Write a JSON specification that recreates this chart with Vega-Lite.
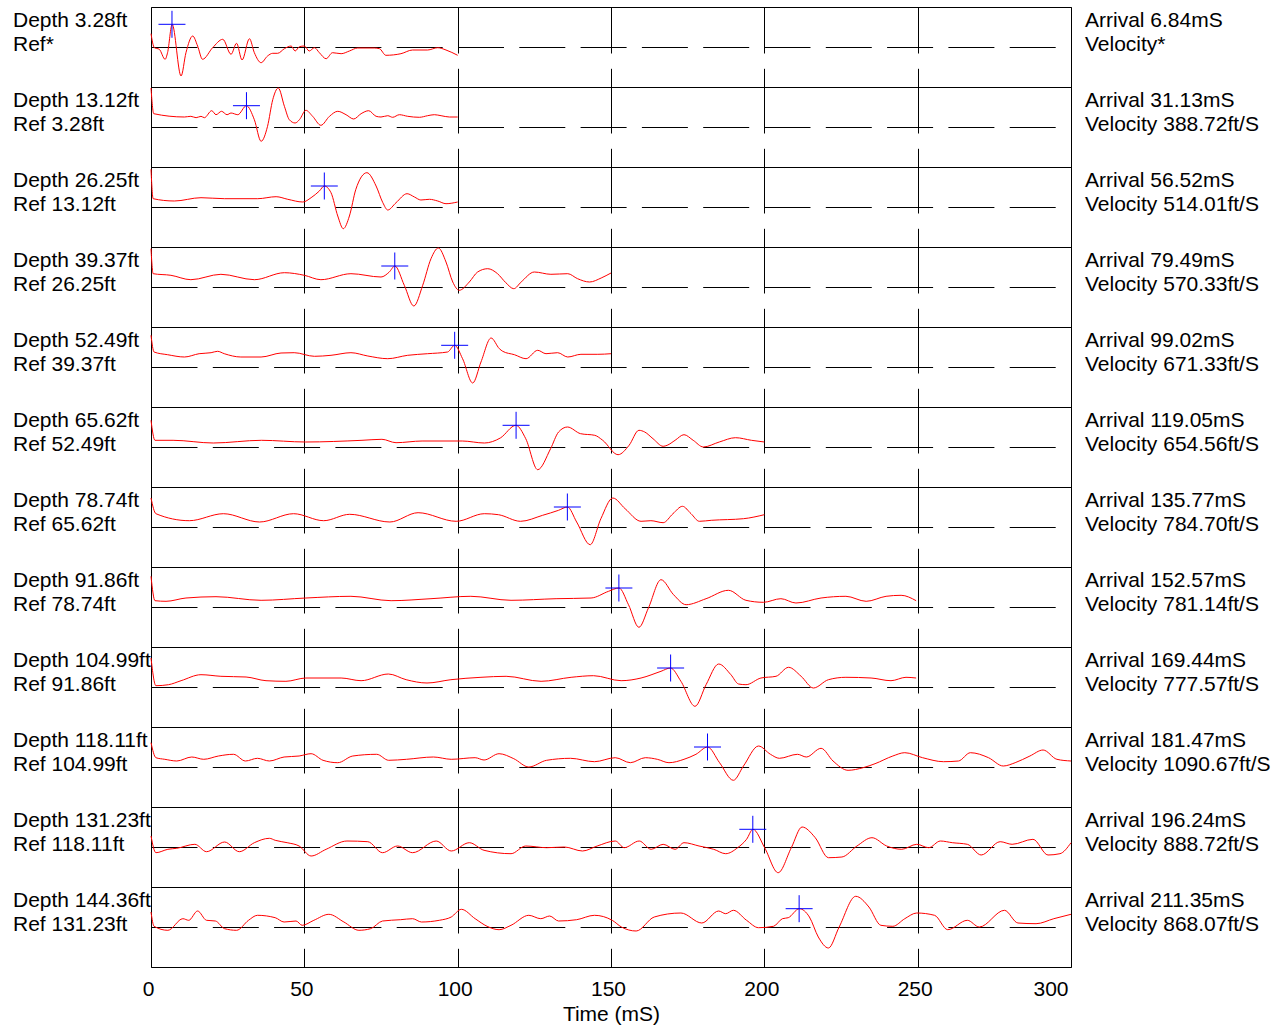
{
  "$schema": "https://vega.github.io/schema/vega-lite/v6.json",
  "padding": {"left": 12, "top": 6, "right": 5, "bottom": 2},
  "background": "white",
  "bounds": "flush",
  "datasets": {
    "panels": [
      {"d": 3.28, "row": "Depth 3.28ft|Ref*"},
      {"d": 13.12, "row": "Depth 13.12ft|Ref 3.28ft"},
      {"d": 26.25, "row": "Depth 26.25ft|Ref 13.12ft"},
      {"d": 39.37, "row": "Depth 39.37ft|Ref 26.25ft"},
      {"d": 52.49, "row": "Depth 52.49ft|Ref 39.37ft"},
      {"d": 65.62, "row": "Depth 65.62ft|Ref 52.49ft"},
      {"d": 78.74, "row": "Depth 78.74ft|Ref 65.62ft"},
      {"d": 91.86, "row": "Depth 91.86ft|Ref 78.74ft"},
      {"d": 104.99, "row": "Depth 104.99ft|Ref 91.86ft"},
      {"d": 118.11, "row": "Depth 118.11ft|Ref 104.99ft"},
      {"d": 131.23, "row": "Depth 131.23ft|Ref 118.11ft"},
      {"d": 144.36, "row": "Depth 144.36ft|Ref 131.23ft"}
    ]
  },
  "data": {
    "values": [
      {"d": 3.28, "arrival": 6.84, "pa": 22.7, "info": "Arrival 6.84mS|Velocity*"},
      {"d": 13.12, "arrival": 31.13, "pa": 21.3, "info": "Arrival 31.13mS|Velocity 388.72ft/S"},
      {"d": 26.25, "arrival": 56.52, "pa": 21, "info": "Arrival 56.52mS|Velocity 514.01ft/S"},
      {"d": 39.37, "arrival": 79.49, "pa": 21, "info": "Arrival 79.49mS|Velocity 570.33ft/S"},
      {"d": 52.49, "arrival": 99.02, "pa": 21.7, "info": "Arrival 99.02mS|Velocity 671.33ft/S"},
      {"d": 65.62, "arrival": 119.05, "pa": 21.7, "info": "Arrival 119.05mS|Velocity 654.56ft/S"},
      {"d": 78.74, "arrival": 135.77, "pa": 20, "info": "Arrival 135.77mS|Velocity 784.70ft/S"},
      {"d": 91.86, "arrival": 152.57, "pa": 19, "info": "Arrival 152.57mS|Velocity 781.14ft/S"},
      {"d": 104.99, "arrival": 169.44, "pa": 19, "info": "Arrival 169.44mS|Velocity 777.57ft/S"},
      {"d": 118.11, "arrival": 181.47, "pa": 20, "info": "Arrival 181.47mS|Velocity 1090.67ft/S"},
      {"d": 131.23, "arrival": 196.24, "pa": 17.7, "info": "Arrival 196.24mS|Velocity 888.72ft/S"},
      {"d": 144.36, "arrival": 211.35, "pa": 18.3, "info": "Arrival 211.35mS|Velocity 868.07ft/S"},

      {"d": 3.28, "t": 0, "a": 13.3}, {"d": 3.28, "t": 1.1, "a": -0.7}, {"d": 3.28, "t": 2.7, "a": -2.3}, {"d": 3.28, "t": 4.6, "a": -12.3},
      {"d": 3.28, "t": 5.4, "a": -5.7}, {"d": 3.28, "t": 6.9, "a": 22.7}, {"d": 3.28, "t": 9.8, "a": -29}, {"d": 3.28, "t": 11.4, "a": -5.7},
      {"d": 3.28, "t": 13.6, "a": 11}, {"d": 3.28, "t": 15.2, "a": 1}, {"d": 3.28, "t": 16.8, "a": -12.3}, {"d": 3.28, "t": 20.1, "a": -0.7},
      {"d": 3.28, "t": 23.4, "a": 7.7}, {"d": 3.28, "t": 26.1, "a": -7.3}, {"d": 3.28, "t": 27.9, "a": 3.7}, {"d": 3.28, "t": 29.7, "a": -13},
      {"d": 3.28, "t": 32.1, "a": 8.3}, {"d": 3.28, "t": 33.7, "a": -5.7}, {"d": 3.28, "t": 35.9, "a": -15.7}, {"d": 3.28, "t": 38, "a": -9},
      {"d": 3.28, "t": 39.7, "a": -6.3}, {"d": 3.28, "t": 41.3, "a": -6.3}, {"d": 3.28, "t": 43.5, "a": -1.7}, {"d": 3.28, "t": 45.7, "a": 1},
      {"d": 3.28, "t": 47, "a": -4}, {"d": 3.28, "t": 48.4, "a": 0.3}, {"d": 3.28, "t": 50, "a": 1}, {"d": 3.28, "t": 51.6, "a": -4},
      {"d": 3.28, "t": 53.3, "a": -0.7}, {"d": 3.28, "t": 54.9, "a": -5.7}, {"d": 3.28, "t": 57.1, "a": -11.7}, {"d": 3.28, "t": 59.2, "a": -5.7},
      {"d": 3.28, "t": 62, "a": -6.7}, {"d": 3.28, "t": 64.7, "a": -4}, {"d": 3.28, "t": 67.4, "a": -1}, {"d": 3.28, "t": 72.8, "a": -1},
      {"d": 3.28, "t": 74.5, "a": -1.7}, {"d": 3.28, "t": 76.6, "a": -8.3}, {"d": 3.28, "t": 81.5, "a": -6.7}, {"d": 3.28, "t": 85.3, "a": -3},
      {"d": 3.28, "t": 90.2, "a": -3}, {"d": 3.28, "t": 93.5, "a": -0.7}, {"d": 3.28, "t": 96.2, "a": -3}, {"d": 3.28, "t": 100, "a": -8.3},

      {"d": 13.12, "t": 0, "a": 39}, {"d": 13.12, "t": 0.9, "a": 13.3}, {"d": 13.12, "t": 10.9, "a": 10}, {"d": 13.12, "t": 13, "a": 10.7},
      {"d": 13.12, "t": 14.7, "a": 9.3}, {"d": 13.12, "t": 16.3, "a": 10.7}, {"d": 13.12, "t": 17.4, "a": 9.3}, {"d": 13.12, "t": 19.8, "a": 16.3},
      {"d": 13.12, "t": 21.2, "a": 12.3}, {"d": 13.12, "t": 23, "a": 15.7}, {"d": 13.12, "t": 24.8, "a": 12.3}, {"d": 13.12, "t": 26.1, "a": 14},
      {"d": 13.12, "t": 28.3, "a": 12.3}, {"d": 13.12, "t": 31.1, "a": 21.3}, {"d": 13.12, "t": 33.7, "a": 7.3}, {"d": 13.12, "t": 35.9, "a": -14.3},
      {"d": 13.12, "t": 38, "a": 0.7}, {"d": 13.12, "t": 39.7, "a": 27.3}, {"d": 13.12, "t": 41.5, "a": 39}, {"d": 13.12, "t": 43.5, "a": 20.7},
      {"d": 13.12, "t": 45.1, "a": 7.3}, {"d": 13.12, "t": 47, "a": 4}, {"d": 13.12, "t": 48.4, "a": 7.3}, {"d": 13.12, "t": 50.5, "a": 16.7},
      {"d": 13.12, "t": 52.7, "a": 10.7}, {"d": 13.12, "t": 55.4, "a": 1.7}, {"d": 13.12, "t": 58.2, "a": 10.7}, {"d": 13.12, "t": 60.9, "a": 15.7},
      {"d": 13.12, "t": 63.6, "a": 12.3}, {"d": 13.12, "t": 66.1, "a": 8}, {"d": 13.12, "t": 68.5, "a": 13.3}, {"d": 13.12, "t": 71, "a": 16.3},
      {"d": 13.12, "t": 73.4, "a": 10.7}, {"d": 13.12, "t": 75, "a": 10}, {"d": 13.12, "t": 77.2, "a": 11.3}, {"d": 13.12, "t": 78.8, "a": 9.7},
      {"d": 13.12, "t": 81, "a": 12.3}, {"d": 13.12, "t": 83.7, "a": 10.7}, {"d": 13.12, "t": 87.5, "a": 9.7}, {"d": 13.12, "t": 90.2, "a": 11.3},
      {"d": 13.12, "t": 92.4, "a": 12.3}, {"d": 13.12, "t": 94.6, "a": 11.3}, {"d": 13.12, "t": 97.3, "a": 10}, {"d": 13.12, "t": 100, "a": 10},

      {"d": 26.25, "t": 0, "a": 37.7}, {"d": 26.25, "t": 0.7, "a": 8.3}, {"d": 26.25, "t": 7.6, "a": 6}, {"d": 26.25, "t": 16.3, "a": 9.3},
      {"d": 26.25, "t": 24, "a": 8.3}, {"d": 26.25, "t": 34.8, "a": 8.3}, {"d": 26.25, "t": 40.8, "a": 10.3}, {"d": 26.25, "t": 44.6, "a": 7.7},
      {"d": 26.25, "t": 49.5, "a": 5}, {"d": 26.25, "t": 52.2, "a": 9.3}, {"d": 26.25, "t": 54.9, "a": 16}, {"d": 26.25, "t": 56.5, "a": 21},
      {"d": 26.25, "t": 58.7, "a": 14.3}, {"d": 26.25, "t": 60.9, "a": -9}, {"d": 26.25, "t": 62.7, "a": -21.7}, {"d": 26.25, "t": 64.7, "a": -9},
      {"d": 26.25, "t": 66.8, "a": 17.7}, {"d": 26.25, "t": 70.4, "a": 34.3}, {"d": 26.25, "t": 73.4, "a": 21}, {"d": 26.25, "t": 75.6, "a": 4.3},
      {"d": 26.25, "t": 77.2, "a": -3}, {"d": 26.25, "t": 79.9, "a": 4.3}, {"d": 26.25, "t": 83.5, "a": 13.3}, {"d": 26.25, "t": 85.9, "a": 10},
      {"d": 26.25, "t": 88, "a": 7}, {"d": 26.25, "t": 90.8, "a": 7.7}, {"d": 26.25, "t": 93.5, "a": 6}, {"d": 26.25, "t": 96.2, "a": 3.3},
      {"d": 26.25, "t": 100, "a": 5},

      {"d": 39.37, "t": 0, "a": 38.3}, {"d": 39.37, "t": 0.7, "a": 13.3}, {"d": 39.37, "t": 6.5, "a": 11.7}, {"d": 39.37, "t": 13, "a": 7.3},
      {"d": 39.37, "t": 22.8, "a": 12.7}, {"d": 39.37, "t": 33.7, "a": 7.3}, {"d": 39.37, "t": 43.5, "a": 14.3}, {"d": 39.37, "t": 50, "a": 11.7},
      {"d": 39.37, "t": 55.4, "a": 7.3}, {"d": 39.37, "t": 65.2, "a": 13.3}, {"d": 39.37, "t": 75, "a": 10}, {"d": 39.37, "t": 77.7, "a": 15},
      {"d": 39.37, "t": 79.5, "a": 21}, {"d": 39.37, "t": 82.6, "a": 1.7}, {"d": 39.37, "t": 85.7, "a": -19}, {"d": 39.37, "t": 88.6, "a": 1.7},
      {"d": 39.37, "t": 91.3, "a": 28.3}, {"d": 39.37, "t": 93.7, "a": 39}, {"d": 39.37, "t": 96.2, "a": 25}, {"d": 39.37, "t": 98.4, "a": 5},
      {"d": 39.37, "t": 100.5, "a": -3.3}, {"d": 39.37, "t": 103.8, "a": 5}, {"d": 39.37, "t": 106.5, "a": 15}, {"d": 39.37, "t": 109.8, "a": 18.3},
      {"d": 39.37, "t": 113, "a": 13.3}, {"d": 39.37, "t": 115.7, "a": 4.3}, {"d": 39.37, "t": 118.3, "a": -1.7}, {"d": 39.37, "t": 120.7, "a": 5},
      {"d": 39.37, "t": 125, "a": 15}, {"d": 39.37, "t": 130.4, "a": 12.7}, {"d": 39.37, "t": 135.9, "a": 13.3}, {"d": 39.37, "t": 139.1, "a": 8.3},
      {"d": 39.37, "t": 143, "a": 5}, {"d": 39.37, "t": 146.8, "a": 9}, {"d": 39.37, "t": 150, "a": 14},

      {"d": 52.49, "t": 0, "a": 31.7}, {"d": 52.49, "t": 1, "a": 15}, {"d": 52.49, "t": 5.4, "a": 12.3}, {"d": 52.49, "t": 10.9, "a": 10},
      {"d": 52.49, "t": 15.7, "a": 13.3}, {"d": 52.49, "t": 19.6, "a": 14.3}, {"d": 52.49, "t": 21.7, "a": 15.7}, {"d": 52.49, "t": 23.9, "a": 13.3},
      {"d": 52.49, "t": 29.3, "a": 10}, {"d": 52.49, "t": 35.9, "a": 10}, {"d": 52.49, "t": 42.4, "a": 14}, {"d": 52.49, "t": 46.7, "a": 14.3},
      {"d": 52.49, "t": 53.3, "a": 10.7}, {"d": 52.49, "t": 58.7, "a": 11.7}, {"d": 52.49, "t": 65.2, "a": 14.3}, {"d": 52.49, "t": 70.7, "a": 11},
      {"d": 52.49, "t": 77.2, "a": 8.3}, {"d": 52.49, "t": 83.7, "a": 11.7}, {"d": 52.49, "t": 90.2, "a": 13.3}, {"d": 52.49, "t": 96.7, "a": 15},
      {"d": 52.49, "t": 99, "a": 21.7}, {"d": 52.49, "t": 101.6, "a": 8.3}, {"d": 52.49, "t": 104.9, "a": -16}, {"d": 52.49, "t": 107.6, "a": 5},
      {"d": 52.49, "t": 110.9, "a": 29}, {"d": 52.49, "t": 113.6, "a": 18.3}, {"d": 52.49, "t": 114.7, "a": 15.7}, {"d": 52.49, "t": 118.5, "a": 12.3},
      {"d": 52.49, "t": 122.3, "a": 8.3}, {"d": 52.49, "t": 126.1, "a": 16.7}, {"d": 52.49, "t": 128.8, "a": 13.3}, {"d": 52.49, "t": 132.6, "a": 14.3},
      {"d": 52.49, "t": 135.9, "a": 10}, {"d": 52.49, "t": 140.2, "a": 12.7}, {"d": 52.49, "t": 145.7, "a": 12.7}, {"d": 52.49, "t": 150, "a": 13.3},

      {"d": 65.62, "t": 0, "a": 26.7}, {"d": 65.62, "t": 1.3, "a": 6.7}, {"d": 65.62, "t": 7.2, "a": 6.7}, {"d": 65.62, "t": 20.3, "a": 4},
      {"d": 65.62, "t": 36, "a": 6.7}, {"d": 65.62, "t": 50.4, "a": 5}, {"d": 65.62, "t": 68.8, "a": 6.7}, {"d": 65.62, "t": 75.3, "a": 7.7},
      {"d": 65.62, "t": 79.9, "a": 4.3}, {"d": 65.62, "t": 88.4, "a": 6}, {"d": 65.62, "t": 101.5, "a": 6}, {"d": 65.62, "t": 108.7, "a": 4},
      {"d": 65.62, "t": 113.9, "a": 9}, {"d": 65.62, "t": 119, "a": 21.7}, {"d": 65.62, "t": 122.2, "a": 8.3}, {"d": 65.62, "t": 126.1, "a": -22.7},
      {"d": 65.62, "t": 130.3, "a": -1.7}, {"d": 65.62, "t": 132.9, "a": 15}, {"d": 65.62, "t": 135.8, "a": 20}, {"d": 65.62, "t": 140.1, "a": 13.3},
      {"d": 65.62, "t": 144.7, "a": 11.7}, {"d": 65.62, "t": 147.3, "a": 6.7}, {"d": 65.62, "t": 152.3, "a": -7.7}, {"d": 65.62, "t": 155.9, "a": 1.7},
      {"d": 65.62, "t": 159.1, "a": 16.7}, {"d": 65.62, "t": 161, "a": 15}, {"d": 65.62, "t": 163.7, "a": 8.3}, {"d": 65.62, "t": 167, "a": 0.7},
      {"d": 65.62, "t": 168.3, "a": 1.7}, {"d": 65.62, "t": 170.9, "a": 6.7}, {"d": 65.62, "t": 173.8, "a": 12.3}, {"d": 65.62, "t": 176.8, "a": 6.7},
      {"d": 65.62, "t": 180.1, "a": 0}, {"d": 65.62, "t": 185.3, "a": 5}, {"d": 65.62, "t": 190.6, "a": 9.3}, {"d": 65.62, "t": 195.8, "a": 6.7},
      {"d": 65.62, "t": 200, "a": 5},

      {"d": 78.74, "t": 0, "a": 29}, {"d": 78.74, "t": 1.6, "a": 13.3}, {"d": 78.74, "t": 12.5, "a": 6.3}, {"d": 78.74, "t": 23.6, "a": 13.3},
      {"d": 78.74, "t": 35.4, "a": 5}, {"d": 78.74, "t": 46.5, "a": 13.3}, {"d": 78.74, "t": 56.3, "a": 6.3}, {"d": 78.74, "t": 64.8, "a": 12.7},
      {"d": 78.74, "t": 77.9, "a": 5}, {"d": 78.74, "t": 87.1, "a": 14.3}, {"d": 78.74, "t": 99.5, "a": 5.7}, {"d": 78.74, "t": 108.7, "a": 13.3},
      {"d": 78.74, "t": 113.3, "a": 12.3}, {"d": 78.74, "t": 120.5, "a": 5.7}, {"d": 78.74, "t": 127.7, "a": 11.7}, {"d": 78.74, "t": 132.9, "a": 16.7},
      {"d": 78.74, "t": 135.8, "a": 20}, {"d": 78.74, "t": 138.8, "a": 5}, {"d": 78.74, "t": 143.2, "a": -17.7}, {"d": 78.74, "t": 146.7, "a": 8.3},
      {"d": 78.74, "t": 150.6, "a": 29}, {"d": 78.74, "t": 154.6, "a": 18.3}, {"d": 78.74, "t": 159.8, "a": 5.7}, {"d": 78.74, "t": 163, "a": 6.3},
      {"d": 78.74, "t": 167, "a": 4.3}, {"d": 78.74, "t": 170.2, "a": 13.3}, {"d": 78.74, "t": 173.3, "a": 20.7}, {"d": 78.74, "t": 176.1, "a": 13.3},
      {"d": 78.74, "t": 178.8, "a": 5.7}, {"d": 78.74, "t": 182.7, "a": 6.7}, {"d": 78.74, "t": 193.2, "a": 8.3}, {"d": 78.74, "t": 200, "a": 12.3},

      {"d": 91.86, "t": 0, "a": 30.7}, {"d": 91.86, "t": 1.3, "a": 6.3}, {"d": 91.86, "t": 4.9, "a": 5.7}, {"d": 91.86, "t": 11.4, "a": 9},
      {"d": 91.86, "t": 21.2, "a": 10.3}, {"d": 91.86, "t": 35.9, "a": 6.7}, {"d": 91.86, "t": 50.5, "a": 9}, {"d": 91.86, "t": 65.2, "a": 10.7},
      {"d": 91.86, "t": 78.3, "a": 6.3}, {"d": 91.86, "t": 91.3, "a": 8.3}, {"d": 91.86, "t": 104.3, "a": 10.7}, {"d": 91.86, "t": 117.4, "a": 6.7},
      {"d": 91.86, "t": 132.1, "a": 8.3}, {"d": 91.86, "t": 143.5, "a": 9}, {"d": 91.86, "t": 149.2, "a": 15.7}, {"d": 91.86, "t": 152.6, "a": 19},
      {"d": 91.86, "t": 155.7, "a": 2.3}, {"d": 91.86, "t": 159.1, "a": -20.3}, {"d": 91.86, "t": 162.2, "a": -1}, {"d": 91.86, "t": 166.3, "a": 27.3},
      {"d": 91.86, "t": 170.4, "a": 12.3}, {"d": 91.86, "t": 174.5, "a": 2.3}, {"d": 91.86, "t": 181, "a": 8.3}, {"d": 91.86, "t": 188.3, "a": 16.7},
      {"d": 91.86, "t": 194, "a": 6.7}, {"d": 91.86, "t": 199.7, "a": 4.7}, {"d": 91.86, "t": 205.4, "a": 8.3}, {"d": 91.86, "t": 210.3, "a": 4},
      {"d": 91.86, "t": 218.5, "a": 9}, {"d": 91.86, "t": 226.6, "a": 10.7}, {"d": 91.86, "t": 233.2, "a": 5.7}, {"d": 91.86, "t": 239.7, "a": 10.7},
      {"d": 91.86, "t": 244.6, "a": 11.7}, {"d": 91.86, "t": 249.5, "a": 6.3},

      {"d": 104.99, "t": 0, "a": 29}, {"d": 104.99, "t": 1.6, "a": 1.3}, {"d": 104.99, "t": 5.7, "a": 2.3}, {"d": 104.99, "t": 9.8, "a": 6.3},
      {"d": 104.99, "t": 16.3, "a": 12.3}, {"d": 104.99, "t": 22.8, "a": 10.7}, {"d": 104.99, "t": 31, "a": 10}, {"d": 104.99, "t": 37.5, "a": 6.3},
      {"d": 104.99, "t": 44, "a": 5.7}, {"d": 104.99, "t": 50.5, "a": 9}, {"d": 104.99, "t": 62, "a": 9}, {"d": 104.99, "t": 68.5, "a": 6.3},
      {"d": 104.99, "t": 77.4, "a": 13}, {"d": 104.99, "t": 83.2, "a": 7.3}, {"d": 104.99, "t": 90, "a": 4}, {"d": 104.99, "t": 97.8, "a": 7.3},
      {"d": 104.99, "t": 107.6, "a": 9.7}, {"d": 104.99, "t": 115.8, "a": 10.7}, {"d": 104.99, "t": 127.2, "a": 5.7}, {"d": 104.99, "t": 137, "a": 9.7},
      {"d": 104.99, "t": 144.3, "a": 11.3}, {"d": 104.99, "t": 153.3, "a": 6.3}, {"d": 104.99, "t": 159.8, "a": 9}, {"d": 104.99, "t": 166.3, "a": 15.7},
      {"d": 104.99, "t": 169.4, "a": 19}, {"d": 104.99, "t": 172.8, "a": 5.7}, {"d": 104.99, "t": 177.4, "a": -19.3}, {"d": 104.99, "t": 181, "a": 2.3},
      {"d": 104.99, "t": 185.1, "a": 23}, {"d": 104.99, "t": 189.1, "a": 12.3}, {"d": 104.99, "t": 191.6, "a": 3}, {"d": 104.99, "t": 194, "a": 2.3},
      {"d": 104.99, "t": 198.9, "a": 9}, {"d": 104.99, "t": 203.8, "a": 10.7}, {"d": 104.99, "t": 207.9, "a": 19.7}, {"d": 104.99, "t": 212, "a": 10.7},
      {"d": 104.99, "t": 216, "a": -1}, {"d": 104.99, "t": 220.9, "a": 7.3}, {"d": 104.99, "t": 226.6, "a": 9.7}, {"d": 104.99, "t": 234.8, "a": 9},
      {"d": 104.99, "t": 241.3, "a": 6.3}, {"d": 104.99, "t": 246.2, "a": 9.7}, {"d": 104.99, "t": 249.5, "a": 9},

      {"d": 118.11, "t": 0, "a": 24.3}, {"d": 118.11, "t": 1.6, "a": 9.3}, {"d": 118.11, "t": 4.5, "a": 7.7}, {"d": 118.11, "t": 8.4, "a": 6},
      {"d": 118.11, "t": 13.3, "a": 10}, {"d": 118.11, "t": 17.2, "a": 7.7}, {"d": 118.11, "t": 22, "a": 11}, {"d": 118.11, "t": 26.9, "a": 12.7},
      {"d": 118.11, "t": 30.8, "a": 6}, {"d": 118.11, "t": 34.7, "a": 8.7}, {"d": 118.11, "t": 38.6, "a": 6}, {"d": 118.11, "t": 43.4, "a": 10},
      {"d": 118.11, "t": 48.3, "a": 11}, {"d": 118.11, "t": 52.2, "a": 13.3}, {"d": 118.11, "t": 56.1, "a": 6.7}, {"d": 118.11, "t": 60.9, "a": 4.3},
      {"d": 118.11, "t": 65.8, "a": 11}, {"d": 118.11, "t": 73.6, "a": 12.7}, {"d": 118.11, "t": 77.5, "a": 6.7}, {"d": 118.11, "t": 83.3, "a": 7.7},
      {"d": 118.11, "t": 92.1, "a": 10}, {"d": 118.11, "t": 97.9, "a": 7.7}, {"d": 118.11, "t": 105.7, "a": 9.3}, {"d": 118.11, "t": 108.6, "a": 7},
      {"d": 118.11, "t": 113.5, "a": 13.3}, {"d": 118.11, "t": 118.3, "a": 8.3}, {"d": 118.11, "t": 123.2, "a": 0}, {"d": 118.11, "t": 129, "a": 6.7},
      {"d": 118.11, "t": 136.8, "a": 8.7}, {"d": 118.11, "t": 144.6, "a": 5.3}, {"d": 118.11, "t": 151.4, "a": 9.3}, {"d": 118.11, "t": 156.3, "a": 4.3},
      {"d": 118.11, "t": 161.2, "a": 9.3}, {"d": 118.11, "t": 165.1, "a": 7.7}, {"d": 118.11, "t": 168.9, "a": 4.3}, {"d": 118.11, "t": 173.8, "a": 7.7},
      {"d": 118.11, "t": 177.7, "a": 12.7}, {"d": 118.11, "t": 181.5, "a": 20}, {"d": 118.11, "t": 185.4, "a": 4.3}, {"d": 118.11, "t": 189.9, "a": -13.3},
      {"d": 118.11, "t": 193.2, "a": 1}, {"d": 118.11, "t": 198.1, "a": 21}, {"d": 118.11, "t": 202, "a": 12.7}, {"d": 118.11, "t": 204.9, "a": 8.7},
      {"d": 118.11, "t": 210.8, "a": 12.7}, {"d": 118.11, "t": 213.7, "a": 10}, {"d": 118.11, "t": 218.5, "a": 18.7}, {"d": 118.11, "t": 222.4, "a": 6},
      {"d": 118.11, "t": 227.3, "a": -3.3}, {"d": 118.11, "t": 232.2, "a": -0.7}, {"d": 118.11, "t": 236.1, "a": 3.3}, {"d": 118.11, "t": 241.9, "a": 11},
      {"d": 118.11, "t": 245.8, "a": 14.3}, {"d": 118.11, "t": 251.6, "a": 9.3}, {"d": 118.11, "t": 258.4, "a": 5.3}, {"d": 118.11, "t": 263.3, "a": 6},
      {"d": 118.11, "t": 267.2, "a": 14.3}, {"d": 118.11, "t": 273.1, "a": 9.3}, {"d": 118.11, "t": 277.9, "a": 1}, {"d": 118.11, "t": 281.8, "a": 4.3},
      {"d": 118.11, "t": 286.6, "a": 11}, {"d": 118.11, "t": 290.9, "a": 17}, {"d": 118.11, "t": 295.4, "a": 7.7}, {"d": 118.11, "t": 300, "a": 6},

      {"d": 131.23, "t": 0, "a": 11}, {"d": 131.23, "t": 1.6, "a": -5.7}, {"d": 131.23, "t": 5.5, "a": -2.3}, {"d": 131.23, "t": 8.4, "a": -1.3},
      {"d": 131.23, "t": 14.3, "a": 2.7}, {"d": 131.23, "t": 18.1, "a": -4.7}, {"d": 131.23, "t": 24, "a": 5}, {"d": 131.23, "t": 28.8, "a": -4.7},
      {"d": 131.23, "t": 33.7, "a": 4.3}, {"d": 131.23, "t": 38.6, "a": 8.7}, {"d": 131.23, "t": 40.5, "a": 6.7}, {"d": 131.23, "t": 44.4, "a": 4.3},
      {"d": 131.23, "t": 48.3, "a": 1}, {"d": 131.23, "t": 52.2, "a": -9}, {"d": 131.23, "t": 57.1, "a": -2.3}, {"d": 131.23, "t": 63.9, "a": 6},
      {"d": 131.23, "t": 70.7, "a": 5.3}, {"d": 131.23, "t": 75.5, "a": -5.7}, {"d": 131.23, "t": 80.4, "a": 1}, {"d": 131.23, "t": 85.3, "a": -5.7},
      {"d": 131.23, "t": 93, "a": 6}, {"d": 131.23, "t": 97.9, "a": -4}, {"d": 131.23, "t": 103.8, "a": 4.3}, {"d": 131.23, "t": 108.6, "a": -3.3},
      {"d": 131.23, "t": 117.4, "a": -6.7}, {"d": 131.23, "t": 122.2, "a": 1}, {"d": 131.23, "t": 129, "a": -0.7}, {"d": 131.23, "t": 134.8, "a": 0},
      {"d": 131.23, "t": 140.7, "a": -4}, {"d": 131.23, "t": 145.5, "a": 1}, {"d": 131.23, "t": 151.4, "a": 6}, {"d": 131.23, "t": 154.3, "a": -0.7},
      {"d": 131.23, "t": 159.2, "a": 6}, {"d": 131.23, "t": 163.1, "a": -2.3}, {"d": 131.23, "t": 167, "a": 2.7}, {"d": 131.23, "t": 170.9, "a": -2.3},
      {"d": 131.23, "t": 173.8, "a": 4.3}, {"d": 131.23, "t": 178.7, "a": 1}, {"d": 131.23, "t": 183.5, "a": -2.3}, {"d": 131.23, "t": 187.4, "a": -6.7},
      {"d": 131.23, "t": 191.3, "a": -0.7}, {"d": 131.23, "t": 194.2, "a": 7.7}, {"d": 131.23, "t": 196.3, "a": 17.7}, {"d": 131.23, "t": 200.1, "a": -0.7},
      {"d": 131.23, "t": 204.5, "a": -25.7}, {"d": 131.23, "t": 208.8, "a": -0.7}, {"d": 131.23, "t": 212.3, "a": 20}, {"d": 131.23, "t": 216.6, "a": 9.3},
      {"d": 131.23, "t": 220.9, "a": -10.7}, {"d": 131.23, "t": 225.3, "a": -10}, {"d": 131.23, "t": 230.2, "a": 1}, {"d": 131.23, "t": 235.1, "a": 9.3},
      {"d": 131.23, "t": 239.9, "a": 1}, {"d": 131.23, "t": 244.8, "a": -2.3}, {"d": 131.23, "t": 249.7, "a": 2.7}, {"d": 131.23, "t": 253.6, "a": -0.7},
      {"d": 131.23, "t": 257.4, "a": 6}, {"d": 131.23, "t": 261.3, "a": 4.3}, {"d": 131.23, "t": 266.2, "a": 2.7}, {"d": 131.23, "t": 270.7, "a": -8},
      {"d": 131.23, "t": 276.9, "a": 5.3}, {"d": 131.23, "t": 280.8, "a": 2.7}, {"d": 131.23, "t": 287.6, "a": 7.7}, {"d": 131.23, "t": 292.5, "a": -8},
      {"d": 131.23, "t": 296.4, "a": -6.7}, {"d": 131.23, "t": 300, "a": 4.3},

      {"d": 144.36, "t": 0, "a": 15}, {"d": 144.36, "t": 1, "a": 0.7}, {"d": 144.36, "t": 5.5, "a": -3.3}, {"d": 144.36, "t": 10.4, "a": 8.3},
      {"d": 144.36, "t": 12.3, "a": 6.7}, {"d": 144.36, "t": 15.2, "a": 16}, {"d": 144.36, "t": 18.1, "a": 6.7}, {"d": 144.36, "t": 21, "a": 6},
      {"d": 144.36, "t": 24, "a": -1.7}, {"d": 144.36, "t": 27.9, "a": -3.3}, {"d": 144.36, "t": 31.8, "a": 6.7}, {"d": 144.36, "t": 34.7, "a": 11.7},
      {"d": 144.36, "t": 40.5, "a": 9.3}, {"d": 144.36, "t": 43.4, "a": 5}, {"d": 144.36, "t": 47.3, "a": 6}, {"d": 144.36, "t": 49.3, "a": 1.7},
      {"d": 144.36, "t": 53.1, "a": 6.7}, {"d": 144.36, "t": 58, "a": 12.7}, {"d": 144.36, "t": 62.9, "a": 5}, {"d": 144.36, "t": 67.8, "a": -3.3},
      {"d": 144.36, "t": 71.6, "a": -1.7}, {"d": 144.36, "t": 75.5, "a": 6}, {"d": 144.36, "t": 81.4, "a": 7.3}, {"d": 144.36, "t": 85.3, "a": 8.3},
      {"d": 144.36, "t": 88.2, "a": 5}, {"d": 144.36, "t": 94, "a": 6.7}, {"d": 144.36, "t": 97.9, "a": 10}, {"d": 144.36, "t": 101.2, "a": 17.7},
      {"d": 144.36, "t": 105.7, "a": 8.3}, {"d": 144.36, "t": 109.6, "a": 0.7}, {"d": 144.36, "t": 113.5, "a": -2.7}, {"d": 144.36, "t": 117.4, "a": 1.7},
      {"d": 144.36, "t": 123.2, "a": 11.7}, {"d": 144.36, "t": 127.1, "a": 8.3}, {"d": 144.36, "t": 130, "a": 11}, {"d": 144.36, "t": 132.9, "a": 6},
      {"d": 144.36, "t": 138.8, "a": 7.3}, {"d": 144.36, "t": 144.6, "a": 11.7}, {"d": 144.36, "t": 150.4, "a": 6.7}, {"d": 144.36, "t": 153.4, "a": 0},
      {"d": 144.36, "t": 158.2, "a": -4}, {"d": 144.36, "t": 164.1, "a": 10}, {"d": 144.36, "t": 172.8, "a": 14}, {"d": 144.36, "t": 179.6, "a": 4},
      {"d": 144.36, "t": 185.1, "a": 16}, {"d": 144.36, "t": 187.4, "a": 13.3}, {"d": 144.36, "t": 189.9, "a": 16.7}, {"d": 144.36, "t": 194.2, "a": 6.7},
      {"d": 144.36, "t": 198.1, "a": -0.7}, {"d": 144.36, "t": 203, "a": 0.7}, {"d": 144.36, "t": 205.9, "a": 8.3}, {"d": 144.36, "t": 207.8, "a": 9.3},
      {"d": 144.36, "t": 211.4, "a": 18.3}, {"d": 144.36, "t": 214.7, "a": 10}, {"d": 144.36, "t": 217.6, "a": -10}, {"d": 144.36, "t": 220.9, "a": -21},
      {"d": 144.36, "t": 224.4, "a": 0}, {"d": 144.36, "t": 229.8, "a": 30.7}, {"d": 144.36, "t": 234.1, "a": 20}, {"d": 144.36, "t": 238, "a": 1.7},
      {"d": 144.36, "t": 241.9, "a": 0.7}, {"d": 144.36, "t": 245.8, "a": 8.3}, {"d": 144.36, "t": 249.7, "a": 14}, {"d": 144.36, "t": 255.5, "a": 11.7},
      {"d": 144.36, "t": 259.8, "a": -2.7}, {"d": 144.36, "t": 266.2, "a": 6.7}, {"d": 144.36, "t": 270.1, "a": 0}, {"d": 144.36, "t": 278.3, "a": 16.7},
      {"d": 144.36, "t": 282.7, "a": 4}, {"d": 144.36, "t": 288.6, "a": 3.3}, {"d": 144.36, "t": 294.4, "a": 8.3}, {"d": 144.36, "t": 300, "a": 12.7}
    ]
  },
  "transform": [
    {"lookup": "d", "from": {"data": {"name": "panels"}, "key": "d", "fields": ["row"]}}
  ],
  "facet": {
    "row": {
      "field": "d",
      "type": "ordinal",
      "sort": "ascending",
      "title": null,
      "header": {"labels": false, "title": null, "labelPadding": 0, "titlePadding": 0}
    }
  },
  "spacing": 0,
  "spec": {
    "width": 920,
    "height": 80,
    "layer": [
      {
        "transform": [{"filter": "datum.a != null"}],
        "mark": {"type": "line", "color": "#ff0000", "strokeWidth": 1, "interpolate": "monotone"},
        "encoding": {
          "x": {
            "field": "t",
            "type": "quantitative",
            "title": "Time (mS)",
            "scale": {"domain": [0, 300], "nice": false, "zero": false},
            "axis": {
              "values": [0, 50, 100, 150, 200, 250, 300],
              "grid": true,
              "gridDash": [46, 15.3],
              "labelFlush": false,
              "labelAlign": {"condition": {"test": "datum.value == 300", "value": "right"}, "value": "center"},
              "labelOffset": -3
            }
          },
          "y": {
            "field": "a",
            "type": "quantitative",
            "title": null,
            "scale": {"domain": [-40, 40], "nice": false, "zero": false},
            "axis": {
              "values": [0],
              "grid": true,
              "gridDash": [46, 15.3],
              "labels": false,
              "ticks": false,
              "domain": false,
              "title": null
            }
          }
        }
      },
      {
        "transform": [{"filter": "datum.arrival != null"}],
        "mark": {"type": "point", "shape": "M-1,0H1M0,-1V1", "size": 729, "filled": false, "stroke": "#0000ff", "strokeWidth": 1, "opacity": 1},
        "encoding": {
          "x": {"field": "arrival", "type": "quantitative", "title": "Time (mS)"},
          "y": {"field": "pa", "type": "quantitative", "title": null}
        }
      },
      {
        "transform": [{"filter": "datum.arrival != null"}],
        "mark": {"type": "text", "align": "left", "baseline": "top", "dx": -138, "dy": 3, "lineBreak": "|", "lineHeight": 24, "fontSize": 21, "font": "Liberation Sans", "color": "black"},
        "encoding": {
          "x": {"datum": 0, "type": "quantitative", "title": "Time (mS)"},
          "y": {"datum": 40, "type": "quantitative", "title": null},
          "text": {"field": "row"}
        }
      },
      {
        "transform": [{"filter": "datum.arrival != null"}],
        "mark": {"type": "text", "align": "left", "baseline": "top", "dx": 14, "dy": 3, "lineBreak": "|", "lineHeight": 24, "fontSize": 21, "font": "Liberation Sans", "color": "black"},
        "encoding": {
          "x": {"datum": 300, "type": "quantitative", "title": "Time (mS)"},
          "y": {"datum": 40, "type": "quantitative", "title": null},
          "text": {"field": "info"}
        }
      }
    ]
  },
  "config": {
    "font": "Liberation Sans",
    "view": {"stroke": "black", "strokeWidth": 1},
    "axis": {
      "labelFont": "Liberation Sans",
      "titleFont": "Liberation Sans",
      "labelFontSize": 21,
      "titleFontSize": 21,
      "labelColor": "black",
      "titleColor": "black",
      "titleFontWeight": "normal",
      "gridColor": "black",
      "gridOpacity": 1,
      "gridWidth": 1,
      "ticks": false,
      "domain": false,
      "labelPadding": 11,
      "titlePadding": 4
    }
  }
}
